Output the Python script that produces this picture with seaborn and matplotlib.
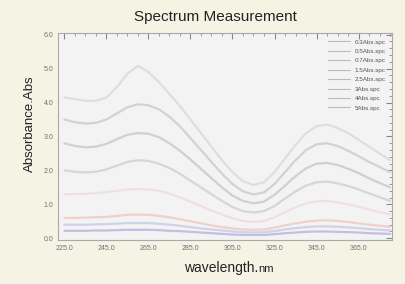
import numpy as np
import pandas as pd
import seaborn as sns
import matplotlib.pyplot as plt
from matplotlib.ticker import MultipleLocator

wavelength = [225, 230, 235, 240, 245, 250, 255, 260, 265, 270, 275, 280, 285, 290, 295, 300,
              305, 310, 315, 320, 325, 330, 335, 340, 345, 350, 355, 360, 365, 370, 375, 380]

abs_5 = [4.15, 4.10, 4.05, 4.05, 4.15, 4.45, 4.85, 5.08, 4.90, 4.60, 4.25, 3.90, 3.50, 3.10, 2.70, 2.30,
         1.95, 1.68, 1.57, 1.65, 1.95, 2.35, 2.75, 3.10, 3.30, 3.35, 3.25, 3.10, 2.90, 2.70, 2.50, 2.30]
abs_4 = [3.50, 3.42, 3.38, 3.40, 3.50, 3.68, 3.86, 3.95, 3.92, 3.80, 3.58, 3.30, 2.95, 2.60, 2.25, 1.90,
         1.60, 1.38, 1.29, 1.35, 1.60, 1.95, 2.30, 2.60, 2.77, 2.80, 2.72, 2.58, 2.42, 2.25, 2.10, 1.95]
abs_3 = [2.80, 2.72, 2.68, 2.70, 2.78, 2.92, 3.05, 3.10, 3.08, 2.98, 2.80, 2.58, 2.32, 2.05, 1.77, 1.50,
         1.26, 1.10, 1.03, 1.08, 1.28, 1.55, 1.83, 2.06, 2.20, 2.22, 2.16, 2.05, 1.92, 1.77, 1.63, 1.50]
abs_2_5 = [2.00, 1.96, 1.94, 1.96, 2.03, 2.14, 2.25, 2.30, 2.28, 2.20, 2.07, 1.90, 1.70, 1.50, 1.30, 1.10,
           0.92, 0.80, 0.76, 0.80, 0.95, 1.17, 1.38, 1.55, 1.65, 1.67, 1.62, 1.54, 1.44, 1.32, 1.21, 1.10]
abs_1_5 = [1.30, 1.30, 1.31, 1.33, 1.36, 1.40, 1.44, 1.45, 1.44, 1.40, 1.32, 1.20, 1.08, 0.95, 0.82, 0.70,
           0.59, 0.51, 0.48, 0.51, 0.62, 0.77, 0.91, 1.03, 1.09, 1.10, 1.06, 1.00, 0.93, 0.85, 0.77, 0.70]
abs_0_7 = [0.60, 0.60, 0.61, 0.62, 0.63, 0.66, 0.69, 0.70, 0.69, 0.66, 0.62, 0.56, 0.50, 0.44, 0.38, 0.33,
           0.29, 0.26, 0.25, 0.26, 0.31, 0.38, 0.44, 0.49, 0.52, 0.53, 0.51, 0.48, 0.44, 0.40, 0.37, 0.34]
abs_0_5 = [0.40, 0.40, 0.40, 0.41, 0.42, 0.43, 0.45, 0.45, 0.45, 0.43, 0.40, 0.37, 0.33, 0.29, 0.26, 0.23,
           0.20, 0.18, 0.17, 0.18, 0.21, 0.26, 0.30, 0.33, 0.35, 0.35, 0.34, 0.32, 0.30, 0.27, 0.25, 0.23]
abs_0_3 = [0.22, 0.22, 0.22, 0.23, 0.23, 0.24, 0.25, 0.25, 0.25, 0.24, 0.22, 0.21, 0.19, 0.17, 0.15, 0.13,
           0.11, 0.10, 0.10, 0.10, 0.12, 0.15, 0.17, 0.19, 0.20, 0.20, 0.19, 0.18, 0.17, 0.15, 0.14, 0.13]

series_names = ["0.3Abs.spc", "0.5Abs.spc", "0.7Abs.spc", "1.5Abs.spc",
                "2.5Abs.spc", "3Abs.spc", "4Abs.spc", "5Abs.spc"]
series_values = [abs_0_3, abs_0_5, abs_0_7, abs_1_5, abs_2_5, abs_3, abs_4, abs_5]
colors = ["#c4bee0", "#cdd3ea", "#f1cfca", "#eedfe3",
          "#d6d6d6", "#d0d0d0", "#d2d2d2", "#dedede"]

rows = []
for name, vals in zip(series_names, series_values):
    for w, v in zip(wavelength, vals):
        rows.append({"wavelength": w, "Abs": v, "file": name})
df = pd.DataFrame(rows)

sns.set_style("white")
plt.rcParams['font.family'] = ['Liberation Sans', 'DejaVu Sans']

fig = plt.figure(figsize=(4.06, 2.84), dpi=100, facecolor="#f5f3e4")
ax = fig.add_axes([0.143, 0.155, 0.823, 0.729])
ax.set_facecolor("#f3f3f3")

sns.lineplot(data=df, x="wavelength", y="Abs", hue="file", hue_order=series_names,
             palette=dict(zip(series_names, colors)), linewidth=1.6, ax=ax, legend=True)

ax.set_xlim(222, 381)
ax.set_ylim(-0.05, 6.05)
ax.xaxis.set_minor_locator(MultipleLocator(5))
ax.yaxis.set_major_locator(MultipleLocator(1))
ax.yaxis.set_minor_locator(MultipleLocator(0.2))
xt = [225, 245, 265, 285, 305, 325, 345, 365]
ax.set_xticks(xt)
ax.set_xticklabels([f"{v:.1f}" for v in xt])
ax.set_yticklabels([f"{v:.1f}" for v in ax.get_yticks()])
ax.tick_params(axis="both", which="both", direction="in", top=True, right=True,
               labelsize=5, labelcolor="#707070", color="#888888")
ax.tick_params(which="major", length=4, width=0.8)
ax.tick_params(which="minor", length=2.5, width=0.6)
for s in ax.spines.values():
    s.set_color("#aaaaaa")
    s.set_linewidth(0.8)

ax.set_xlabel("")
ax.set_ylabel("Absorbance.Abs", fontsize=9.5, color="#222222")
ax.yaxis.set_label_coords(-0.065, 0.56)

leg = ax.legend(loc="upper right", frameon=False, fontsize=4.5, handlelength=3.5,
                labelspacing=0.65, borderaxespad=0.6)
for h in leg.get_lines():
    h.set_color("#bbbbbb")
    h.set_linewidth(0.8)
for t in leg.get_texts():
    t.set_color("#555555")

fig.text(0.53, 0.94, "Spectrum Measurement", ha="center", va="center",
         fontsize=11, color="#222222")
fig.text(0.635, 0.057, "wavelength.", ha="right", va="center", fontsize=10, color="#222222")
fig.text(0.635, 0.052, "nm", ha="left", va="center", fontsize=8, color="#222222")

fig.savefig("out.png", dpi=100, facecolor=fig.get_facecolor())
